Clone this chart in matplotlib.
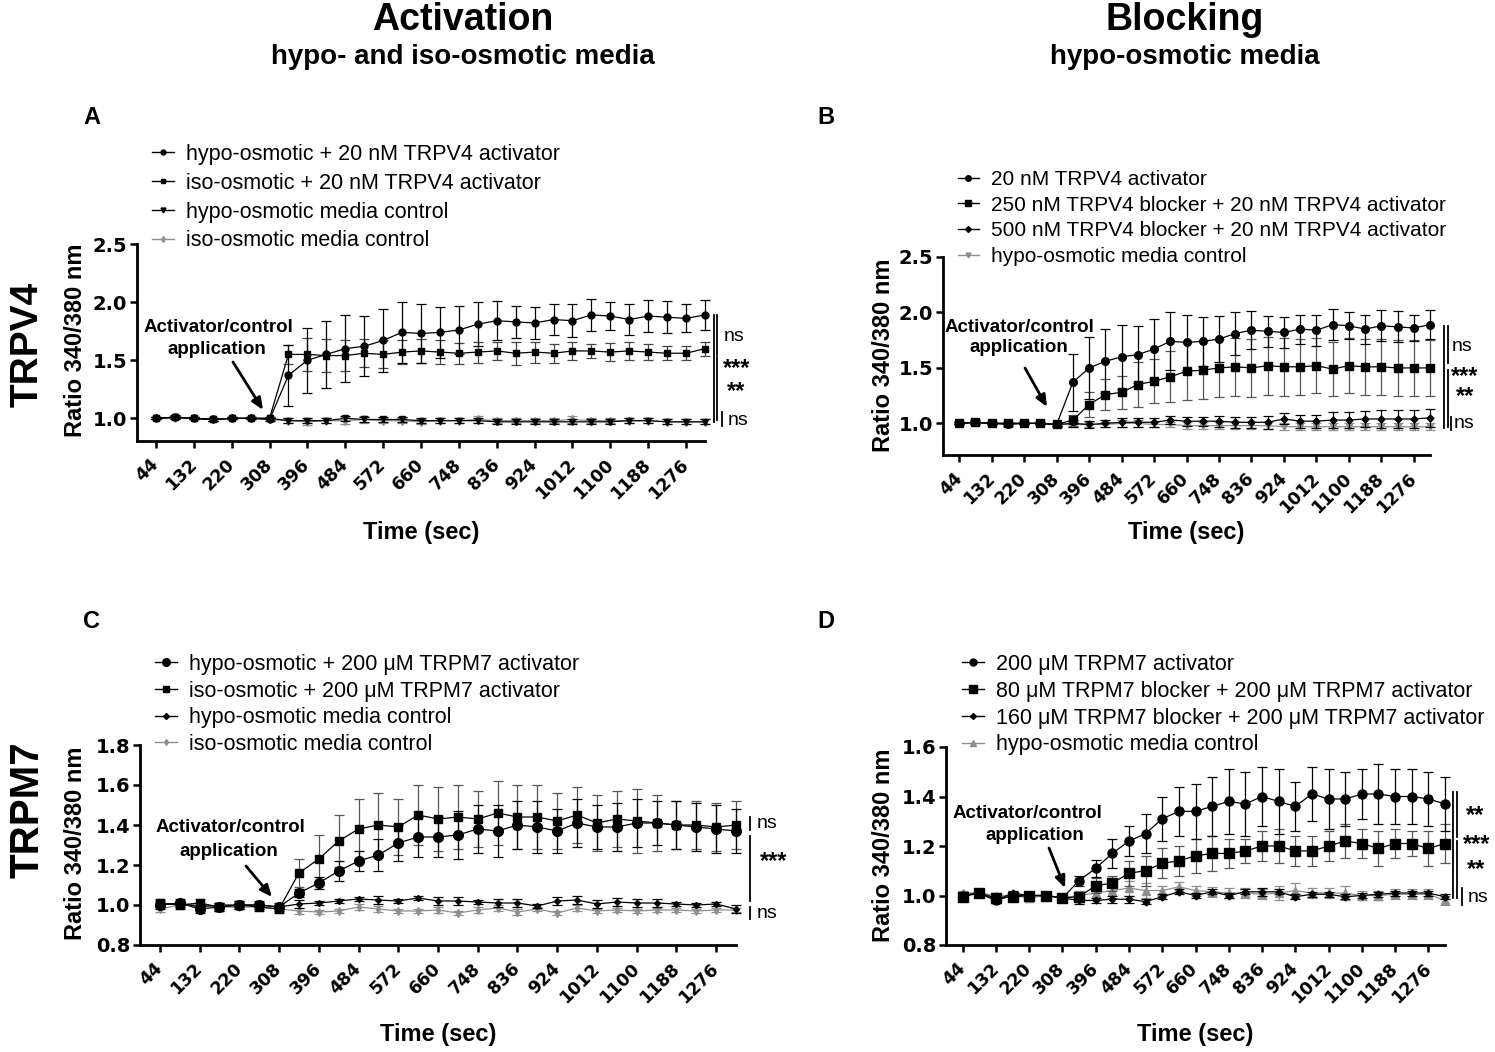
import matplotlib
matplotlib.use("Agg")
import matplotlib.pyplot as plt
from matplotlib.lines import Line2D

plt.rcParams['font.family'] = ['Liberation Sans', 'DejaVu Sans']

# ---------------- data ----------------
time_s = [44, 88, 132, 176, 220, 264, 308, 352, 396, 440, 484, 528, 572, 616, 660,
          704, 748, 792, 836, 880, 924, 968, 1012, 1056, 1100, 1144, 1188, 1232, 1276, 1320]
tick_s = [44, 132, 220, 308, 396, 484, 572, 660, 748, 836, 924, 1012, 1100, 1188, 1276]

# Panel A (TRPV4 activation)
a_hypo_act = [1.00, 1.01, 1.00, 0.99, 1.00, 1.00, 0.99, 1.37, 1.50, 1.55, 1.60, 1.62, 1.67, 1.74, 1.73,
              1.74, 1.76, 1.81, 1.84, 1.83, 1.82, 1.85, 1.84, 1.89, 1.88, 1.85, 1.88, 1.87, 1.86, 1.89]
a_hypo_act_err = [0.01, 0.02, 0.01, 0.01, 0.01, 0.01, 0.01, 0.26, 0.28, 0.29, 0.29, 0.26, 0.27, 0.26, 0.25,
                  0.22, 0.21, 0.19, 0.17, 0.14, 0.14, 0.13, 0.14, 0.14, 0.12, 0.13, 0.14, 0.14, 0.12, 0.13]
a_iso_act = [1.00, 1.01, 1.00, 0.99, 1.00, 1.00, 1.00, 1.55, 1.55, 1.54, 1.54, 1.56, 1.55, 1.57, 1.58,
             1.57, 1.56, 1.57, 1.58, 1.56, 1.57, 1.56, 1.58, 1.58, 1.57, 1.58, 1.57, 1.56, 1.56, 1.60]
a_iso_act_err = [0.01, 0.01, 0.01, 0.01, 0.01, 0.01, 0.01, 0.08, 0.14, 0.14, 0.13, 0.12, 0.12, 0.10, 0.10,
                 0.10, 0.09, 0.09, 0.08, 0.10, 0.09, 0.08, 0.08, 0.06, 0.08, 0.08, 0.07, 0.06, 0.06, 0.06]
a_hypo_ctrl = [1.00, 1.01, 1.00, 0.99, 1.00, 1.00, 1.00, 0.98, 0.98, 0.98, 1.00, 0.99, 0.99, 0.99, 0.98,
               0.98, 0.98, 0.98, 0.97, 0.97, 0.97, 0.97, 0.97, 0.97, 0.97, 0.98, 0.98, 0.97, 0.97, 0.97]
a_hypo_ctrl_err = [0.01, 0.01, 0.01, 0.01, 0.01, 0.01, 0.01, 0.02, 0.02, 0.02, 0.02, 0.02, 0.02, 0.02, 0.02,
                   0.02, 0.02, 0.02, 0.02, 0.02, 0.02, 0.02, 0.02, 0.02, 0.02, 0.02, 0.02, 0.02, 0.02, 0.02]
a_iso_ctrl = [1.00, 1.00, 1.00, 0.99, 1.00, 1.00, 0.99, 0.98, 0.97, 0.98, 0.98, 0.99, 0.98, 0.98, 0.97,
              0.98, 0.98, 0.99, 0.98, 0.98, 0.98, 0.98, 0.99, 0.98, 0.98, 0.98, 0.98, 0.97, 0.97, 0.97]
a_iso_ctrl_err = [0.01, 0.01, 0.01, 0.01, 0.01, 0.01, 0.01, 0.02, 0.03, 0.02, 0.03, 0.03, 0.02, 0.02, 0.02,
                  0.02, 0.02, 0.03, 0.02, 0.02, 0.02, 0.02, 0.03, 0.02, 0.02, 0.02, 0.02, 0.02, 0.02, 0.02]

# Panel B (TRPV4 blocking)
b_act = [1.00, 1.01, 1.00, 0.99, 1.00, 1.00, 0.99, 1.37, 1.50, 1.56, 1.60, 1.62, 1.67, 1.74, 1.73,
         1.74, 1.76, 1.81, 1.84, 1.83, 1.82, 1.85, 1.84, 1.89, 1.88, 1.85, 1.88, 1.87, 1.86, 1.89]
b_act_err = [0.01, 0.02, 0.01, 0.01, 0.01, 0.01, 0.01, 0.26, 0.28, 0.29, 0.29, 0.26, 0.27, 0.26, 0.25,
             0.22, 0.21, 0.19, 0.17, 0.14, 0.14, 0.13, 0.14, 0.14, 0.12, 0.13, 0.14, 0.14, 0.12, 0.13]
b_blk250 = [1.00, 1.01, 1.00, 1.00, 1.00, 1.00, 0.99, 1.03, 1.17, 1.26, 1.28, 1.35, 1.38, 1.42, 1.47,
            1.48, 1.50, 1.51, 1.50, 1.52, 1.51, 1.51, 1.52, 1.49, 1.52, 1.51, 1.51, 1.50, 1.50, 1.50]
b_blk250_err = [0.01, 0.01, 0.01, 0.01, 0.01, 0.01, 0.01, 0.05, 0.11, 0.14, 0.15, 0.20, 0.20, 0.23, 0.26,
                0.26, 0.26, 0.26, 0.26, 0.26, 0.26, 0.25, 0.25, 0.24, 0.25, 0.25, 0.25, 0.25, 0.25, 0.25]
b_blk500 = [1.00, 1.01, 1.00, 1.00, 1.00, 1.00, 0.99, 1.00, 0.99, 1.00, 1.01, 1.01, 1.01, 1.03, 1.02,
            1.02, 1.02, 1.01, 1.01, 1.01, 1.04, 1.02, 1.02, 1.03, 1.03, 1.04, 1.04, 1.04, 1.04, 1.05]
b_blk500_err = [0.01, 0.01, 0.01, 0.01, 0.01, 0.01, 0.01, 0.03, 0.03, 0.03, 0.04, 0.04, 0.04, 0.04, 0.04,
                0.04, 0.05, 0.05, 0.05, 0.06, 0.05, 0.06, 0.06, 0.07, 0.07, 0.07, 0.08, 0.08, 0.08, 0.08]
b_hypo_ctrl = [1.00, 1.00, 1.00, 1.00, 1.00, 1.00, 0.99, 0.99, 0.99, 0.99, 1.00, 1.00, 0.99, 0.99, 0.98,
               0.98, 0.98, 0.98, 0.98, 0.98, 0.97, 0.97, 0.97, 0.97, 0.97, 0.97, 0.97, 0.97, 0.97, 0.97]
b_hypo_ctrl_err = [0.01, 0.01, 0.01, 0.01, 0.01, 0.01, 0.01, 0.02, 0.02, 0.02, 0.03, 0.03, 0.02, 0.02, 0.03,
                   0.03, 0.03, 0.03, 0.03, 0.03, 0.03, 0.03, 0.03, 0.03, 0.03, 0.03, 0.03, 0.03, 0.03, 0.03]

# Panel C (TRPM7 activation)
c_hypo_act = [1.00, 1.01, 0.98, 0.99, 1.00, 1.00, 0.99, 1.06, 1.11, 1.17, 1.22, 1.25, 1.31, 1.34, 1.34,
              1.35, 1.38, 1.37, 1.40, 1.39, 1.37, 1.41, 1.39, 1.39, 1.41, 1.41, 1.40, 1.39, 1.38, 1.37]
c_hypo_act_err = [0.02, 0.02, 0.02, 0.02, 0.02, 0.02, 0.02, 0.02, 0.03, 0.05, 0.05, 0.08, 0.09, 0.10, 0.10,
                  0.12, 0.12, 0.13, 0.12, 0.13, 0.11, 0.12, 0.11, 0.12, 0.12, 0.11, 0.12, 0.12, 0.12, 0.11]
c_iso_act = [1.01, 1.00, 1.01, 0.99, 1.00, 0.99, 0.98, 1.16, 1.23, 1.32, 1.38, 1.40, 1.39, 1.45, 1.43,
             1.44, 1.43, 1.46, 1.44, 1.44, 1.42, 1.45, 1.41, 1.43, 1.42, 1.41, 1.40, 1.40, 1.39, 1.40]
c_iso_act_err = [0.02, 0.02, 0.02, 0.02, 0.02, 0.02, 0.02, 0.07, 0.12, 0.13, 0.15, 0.16, 0.14, 0.15, 0.16,
                 0.16, 0.14, 0.16, 0.16, 0.16, 0.14, 0.14, 0.14, 0.14, 0.16, 0.14, 0.12, 0.12, 0.12, 0.12]
c_hypo_ctrl = [1.00, 1.01, 0.99, 1.00, 1.00, 1.00, 0.99, 1.005, 1.01, 1.02, 1.03, 1.025, 1.02, 1.035, 1.02,
               1.02, 1.015, 1.01, 1.01, 0.995, 1.02, 1.025, 1.005, 1.015, 1.01, 1.01, 1.005, 1.00, 1.005, 0.98]
c_hypo_ctrl_err = [0.01, 0.01, 0.01, 0.01, 0.01, 0.01, 0.01, 0.02, 0.01, 0.01, 0.01, 0.02, 0.01, 0.01, 0.02,
                   0.02, 0.01, 0.02, 0.02, 0.01, 0.02, 0.02, 0.02, 0.02, 0.02, 0.02, 0.01, 0.01, 0.01, 0.02]
c_iso_ctrl = [0.98, 1.00, 1.00, 0.99, 0.99, 0.99, 0.98, 0.97, 0.965, 0.97, 0.99, 0.98, 0.97, 0.97, 0.975,
              0.96, 0.975, 0.985, 0.965, 0.98, 0.96, 0.985, 0.97, 0.975, 0.97, 0.975, 0.975, 0.97, 0.975, 0.975]
c_iso_ctrl_err = [0.015, 0.01, 0.01, 0.01, 0.01, 0.01, 0.01, 0.015, 0.01, 0.01, 0.015, 0.015, 0.01, 0.01, 0.015,
                  0.01, 0.015, 0.015, 0.015, 0.01, 0.01, 0.015, 0.01, 0.01, 0.01, 0.01, 0.01, 0.01, 0.01, 0.01]

# Panel D (TRPM7 blocking)
d_act = [1.00, 1.01, 0.98, 1.00, 1.00, 1.00, 0.99, 1.06, 1.11, 1.17, 1.22, 1.25, 1.31, 1.34, 1.34,
         1.36, 1.38, 1.37, 1.40, 1.38, 1.36, 1.41, 1.39, 1.39, 1.41, 1.41, 1.40, 1.40, 1.39, 1.37]
d_act_err = [0.01, 0.01, 0.01, 0.01, 0.01, 0.01, 0.01, 0.02, 0.035, 0.06, 0.06, 0.08, 0.09, 0.10, 0.11,
             0.12, 0.13, 0.13, 0.12, 0.13, 0.10, 0.11, 0.12, 0.11, 0.10, 0.12, 0.11, 0.11, 0.11, 0.11]
d_blk80 = [0.995, 1.01, 0.99, 0.995, 1.00, 1.00, 0.99, 0.995, 1.04, 1.05, 1.09, 1.10, 1.13, 1.14, 1.16,
           1.17, 1.17, 1.18, 1.20, 1.20, 1.18, 1.18, 1.20, 1.22, 1.21, 1.19, 1.21, 1.21, 1.19, 1.21]
d_blk80_err = [0.01, 0.01, 0.01, 0.01, 0.01, 0.01, 0.01, 0.02, 0.03, 0.03, 0.05, 0.06, 0.06, 0.06, 0.07,
               0.07, 0.06, 0.05, 0.06, 0.07, 0.06, 0.06, 0.06, 0.07, 0.06, 0.07, 0.06, 0.05, 0.07, 0.08]
d_blk160 = [1.00, 1.01, 0.98, 1.01, 1.00, 1.00, 0.99, 0.98, 0.98, 0.985, 0.985, 0.975, 0.995, 1.015, 1.00,
            1.015, 1.00, 1.015, 1.015, 1.015, 0.995, 1.005, 1.005, 0.995, 1.00, 1.005, 1.01, 1.01, 1.01, 0.995]
d_blk160_err = [0.01, 0.01, 0.01, 0.01, 0.01, 0.01, 0.01, 0.015, 0.01, 0.015, 0.015, 0.01, 0.01, 0.01, 0.01,
                0.01, 0.01, 0.01, 0.015, 0.01, 0.01, 0.01, 0.01, 0.01, 0.01, 0.01, 0.01, 0.01, 0.01, 0.01]
d_hypo_ctrl = [1.01, 1.01, 1.00, 1.00, 0.99, 1.00, 0.99, 1.00, 1.01, 1.02, 1.03, 1.02, 1.02, 1.035, 1.02,
               1.015, 1.01, 1.01, 1.005, 1.01, 1.02, 1.01, 1.01, 1.01, 1.00, 1.00, 1.005, 1.005, 1.005, 0.98]
d_hypo_ctrl_err = [0.01, 0.01, 0.01, 0.01, 0.01, 0.01, 0.01, 0.02, 0.03, 0.03, 0.03, 0.03, 0.02, 0.02, 0.02,
                   0.02, 0.02, 0.02, 0.02, 0.03, 0.03, 0.02, 0.02, 0.03, 0.02, 0.02, 0.02, 0.02, 0.02, 0.02]

a_yticks = [1.0, 1.5, 2.0, 2.5]
b_yticks = [1.0, 1.5, 2.0, 2.5]
c_yticks = [0.8, 1.0, 1.2, 1.4, 1.6, 1.8]
d_yticks = [0.8, 1.0, 1.2, 1.4, 1.6]

# ---------------- figure ----------------
W, H = 1495, 1052
fig = plt.figure(figsize=(W / 100, H / 100), dpi=100)
GRAY = '#8e8e8e'
BLK = 'black'


def to_fig(x, y):
    return x / W, 1 - y / H


def ftext(x, y, s, **kw):
    fig.text(*to_fig(x, y), s, **kw)


ftext(463, 20, 'Activation', fontsize=27, fontweight='bold', ha='center', va='center')
ftext(463, 57, 'hypo- and iso-osmotic media', fontsize=20, fontweight='bold', ha='center', va='center')
ftext(1185, 20, 'Blocking', fontsize=27, fontweight='bold', ha='center', va='center')
ftext(1185, 57, 'hypo-osmotic media', fontsize=20, fontweight='bold', ha='center', va='center')
ftext(28, 344, 'TRPV4', fontsize=28, fontweight='bold', rotation=90, ha='center', va='center')
ftext(28, 810, 'TRPM7', fontsize=29, fontweight='bold', rotation=90, ha='center', va='center')
for letter, lx, ly in [('A', 92, 118), ('B', 826, 118), ('C', 92, 622), ('D', 826, 622)]:
    ftext(lx, ly, letter, fontsize=17, fontweight='bold', ha='center', va='center')

panels = [
    dict(box=(137, 705, 244, 441), ylim=(0.805, 2.5), yticks=a_yticks, ylab=(75, 340), xlab=533,
         series=[('hypo-osmotic + 20 nM TRPV4 activator', a_hypo_act, a_hypo_act_err, 'o', 5, BLK, BLK),
                 ('iso-osmotic + 20 nM TRPV4 activator', a_iso_act, a_iso_act_err, 's', 5, BLK, '#444444'),
                 ('hypo-osmotic media control', a_hypo_ctrl, a_hypo_ctrl_err, 'v', 5, BLK, BLK),
                 ('iso-osmotic media control', a_iso_ctrl, a_iso_ctrl_err, 'd', 4, GRAY, GRAY)],
         leg=(152, 144), legsp=0.36, legfs=15.5,
         note=((218, 328), (217, 349)), arrow=((233, 362), (263, 410)),
         lines=[(714, 1.89, 0.97), (717, 1.89, 1.545), (717, 1.53, 0.985), (722, 1.057, 0.93)],
         texts=[(724, 1.708, 'ns', 'left', 14, 'normal'), (737, 1.43, '***', 'center', 17, 'bold'),
                (736, 1.235, '**', 'center', 17, 'bold'), (728, 0.98, 'ns', 'left', 14, 'normal')]),
    dict(box=(943, 1430, 257, 455), ylim=(0.715, 2.5), yticks=b_yticks, ylab=(883, 355), xlab=533,
         series=[('20 nM TRPV4 activator', b_act, b_act_err, 'o', 5.5, BLK, BLK),
                 ('250 nM TRPV4 blocker + 20 nM TRPV4 activator', b_blk250, b_blk250_err, 's', 6, BLK, '#555555'),
                 ('500 nM TRPV4 blocker + 20 nM TRPV4 activator', b_blk500, b_blk500_err, 'D', 3.5, BLK, BLK),
                 ('hypo-osmotic media control', b_hypo_ctrl, b_hypo_ctrl_err, 'v', 5, GRAY, GRAY)],
         leg=(958, 170), legsp=0.32, legfs=15,
         note=((1019, 327), (1019, 348)), arrow=((1025, 368), (1047, 407)),
         lines=[(1444, 1.88, 0.96), (1447.5, 1.88, 1.54), (1447.5, 1.48, 0.97), (1450.5, 1.06, 0.94)],
         texts=[(1452, 1.69, 'ns', 'left', 14, 'normal'), (1465, 1.425, '***', 'center', 17, 'bold'),
                (1465, 1.24, '**', 'center', 17, 'bold'), (1454, 1.0, 'ns', 'left', 14, 'normal')]),
    dict(box=(140, 736, 745, 945), ylim=(0.8, 1.8), yticks=c_yticks, ylab=(75, 843), xlab=1035,
         series=[('hypo-osmotic + 200 μM TRPM7 activator', c_hypo_act, c_hypo_act_err, 'o', 7, BLK, BLK),
                 ('iso-osmotic + 200 μM TRPM7 activator', c_iso_act, c_iso_act_err, 's', 5.5, BLK, '#555555'),
                 ('hypo-osmotic media control', c_hypo_ctrl, c_hypo_ctrl_err, 'D', 3, BLK, BLK),
                 ('iso-osmotic media control', c_iso_ctrl, c_iso_ctrl_err, 'd', 4, GRAY, GRAY)],
         leg=(155, 654), legsp=0.26, legfs=15.5,
         note=((230, 828), (229, 851)), arrow=((246, 866), (272, 897)),
         lines=[(750, 1.44, 1.375), (750, 1.345, 1.02), (750, 0.99, 0.93)],
         texts=[(757, 1.41, 'ns', 'left', 14, 'normal'), (774, 1.215, '***', 'center', 17, 'bold'),
                (757, 0.96, 'ns', 'left', 14, 'normal')]),
    dict(box=(946, 1445, 747, 945), ylim=(0.8, 1.6), yticks=d_yticks, ylab=(883, 845), xlab=1035,
         series=[('200 μM TRPM7 activator', d_act, d_act_err, 'o', 6.5, BLK, BLK),
                 ('80 μM TRPM7 blocker + 200 μM TRPM7 activator', d_blk80, d_blk80_err, 's', 7, BLK, '#555555'),
                 ('160 μM TRPM7 blocker + 200 μM TRPM7 activator', d_blk160, d_blk160_err, 'D', 3.5, BLK, BLK),
                 ('hypo-osmotic media control', d_hypo_ctrl, d_hypo_ctrl_err, '^', 6, GRAY, GRAY)],
         leg=(962, 654), legsp=0.27, legfs=15.5,
         note=((1027, 813), (1035, 836)), arrow=((1049, 848), (1065, 888)),
         lines=[(1453.3, 1.417, 0.99), (1456.8, 1.417, 1.235), (1456.8, 1.222, 0.99), (1461.7, 1.03, 0.96)],
         texts=[(1475, 1.325, '**', 'center', 17, 'bold'), (1477, 1.207, '***', 'center', 17, 'bold'),
                (1476, 1.106, '**', 'center', 17, 'bold'), (1468, 0.99, 'ns', 'left', 14, 'normal')]),
]

for p in panels:
    l, r, t, b = p['box']
    ax = fig.add_axes([l / W, 1 - b / H, (r - l) / W, (b - t) / H])
    handles = []
    n = len(p['series'])
    for i, (label, vals, errs, mk, ms, col, ecol) in enumerate(p['series']):
        cont = ax.errorbar(time_s, vals, yerr=errs, fmt='-', marker=mk, ms=ms, color=col,
                           mfc=col, mec=col, ecolor=ecol, lw=0.9, elinewidth=0.9,
                           capsize=3.5, capthick=0.9, zorder=3 + (n - i))
        for art in cont.get_children():
            art.set_clip_on(False)
        handles.append(Line2D([0], [0], color=col, marker=mk, ms=max(ms - 1.5, 3), lw=1.0, mfc=col, mec=col))
    ax.set_xlim(0, 1320)
    ax.set_ylim(*p['ylim'])
    for side in ('top', 'right'):
        ax.spines[side].set_visible(False)
    for side in ('left', 'bottom'):
        ax.spines[side].set_linewidth(2.0)
    ax.set_xticks(tick_s)
    ax.set_xticklabels([str(v) for v in tick_s], rotation=45, ha='right', va='center',
                       rotation_mode='anchor', fontfamily='DejaVu Sans', fontweight='bold', fontsize=12.5)
    ax.set_yticks(p['yticks'])
    ax.set_yticklabels([f'{v:.1f}' for v in p['yticks']], fontfamily='DejaVu Sans',
                       fontweight='bold', fontsize=14)
    ax.tick_params(axis='both', direction='out', length=5, width=1.8)
    ax.tick_params(axis='x', pad=10)
    ax.tick_params(axis='y', pad=2)

    ftext(p['ylab'][0], p['ylab'][1], 'Ratio 340/380 nm', fontsize=17, fontweight='bold',
          rotation=90, ha='center', va='center')
    ftext((l + r) / 2, p['xlab'], 'Time (sec)', fontsize=17, fontweight='bold', ha='center', va='center')

    ax.legend(handles, [s[0] for s in p['series']], loc='upper left',
              bbox_to_anchor=to_fig(*p['leg']), bbox_transform=fig.transFigure,
              frameon=False, fontsize=p['legfs'], handlelength=1.0, handletextpad=0.6,
              labelspacing=p['legsp'], borderpad=0, borderaxespad=0)

    (n1x, n1y), (n2x, n2y) = p['note']
    ftext(n1x, n1y, 'Activator/control', fontsize=13.5, fontweight='bold', ha='center', va='center')
    ftext(n2x, n2y, 'application', fontsize=13.5, fontweight='bold', ha='center', va='center')
    (tx, ty), (hx, hy) = p['arrow']
    ax.annotate('', xy=(hx, H - hy), xytext=(tx, H - ty), xycoords='figure pixels',
                textcoords='figure pixels', annotation_clip=False,
                arrowprops=dict(arrowstyle='-|>,head_length=0.7,head_width=0.3', lw=2.0,
                                color='black', shrinkA=0, shrinkB=0))

    tr = ax.get_yaxis_transform()
    for (xp, y0, y1) in p['lines']:
        xf = (xp - l) / (r - l)
        ax.plot([xf, xf], [y0, y1], transform=tr, color='black', lw=1.3, clip_on=False)
    for (xp, yv, s, ha, fs, fw) in p['texts']:
        xf = (xp - l) / (r - l)
        ax.text(xf, yv, s, transform=tr, ha=ha, va='center', fontsize=fs, fontweight=fw, clip_on=False)

fig.savefig('out.png', dpi=100)
